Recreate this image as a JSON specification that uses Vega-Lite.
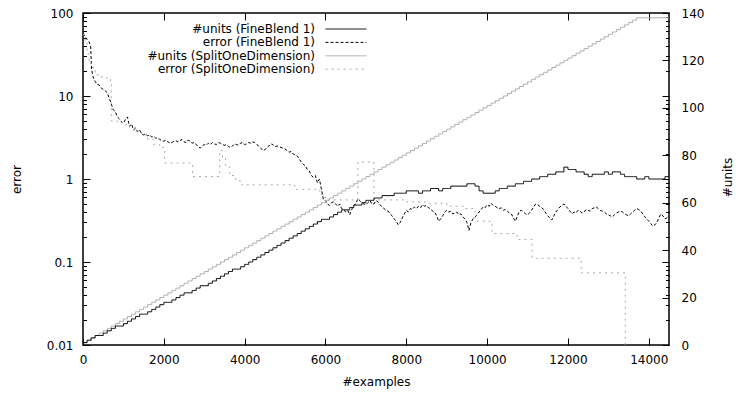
{
  "$schema": "https://vega.github.io/schema/vega-lite/v6.json",
  "width": 586,
  "height": 332,
  "autosize": {"type": "none"},
  "padding": {"left": 83, "top": 13, "right": 67, "bottom": 48},
  "datasets": {
    "units": [
      {"x":0,"fb":1,"sod":1},{"x":100,"fb":2,"sod":2},{"x":200,"fb":3,"sod":3},{"x":300,"fb":4,"sod":4},{"x":400,"fb":4,"sod":5},
      {"x":500,"fb":5,"sod":6},{"x":600,"fb":6,"sod":7},{"x":700,"fb":7,"sod":8},{"x":800,"fb":8,"sod":9},{"x":900,"fb":8,"sod":10},
      {"x":1000,"fb":9,"sod":11},{"x":1100,"fb":10,"sod":12},{"x":1200,"fb":11,"sod":13},{"x":1300,"fb":12,"sod":14},{"x":1400,"fb":13,"sod":15},
      {"x":1500,"fb":13,"sod":16},{"x":1600,"fb":14,"sod":17},{"x":1700,"fb":15,"sod":18},{"x":1800,"fb":16,"sod":19},{"x":1900,"fb":17,"sod":20},
      {"x":2000,"fb":18,"sod":21},{"x":2100,"fb":18,"sod":22},{"x":2200,"fb":19,"sod":23},{"x":2300,"fb":20,"sod":24},{"x":2400,"fb":21,"sod":25},
      {"x":2500,"fb":22,"sod":26},{"x":2600,"fb":22,"sod":27},{"x":2700,"fb":23,"sod":28},{"x":2800,"fb":24,"sod":29},{"x":2900,"fb":25,"sod":30},
      {"x":3000,"fb":25,"sod":31},{"x":3100,"fb":26,"sod":32},{"x":3200,"fb":27,"sod":33},{"x":3300,"fb":28,"sod":34},{"x":3400,"fb":29,"sod":35},
      {"x":3500,"fb":30,"sod":36},{"x":3600,"fb":31,"sod":37},{"x":3700,"fb":32,"sod":38},{"x":3800,"fb":32,"sod":39},{"x":3900,"fb":33,"sod":40},
      {"x":4000,"fb":34,"sod":41},{"x":4100,"fb":35,"sod":42},{"x":4200,"fb":36,"sod":43},{"x":4300,"fb":37,"sod":44},{"x":4400,"fb":38,"sod":45},
      {"x":4500,"fb":39,"sod":46},{"x":4600,"fb":40,"sod":47},{"x":4700,"fb":41,"sod":48},{"x":4800,"fb":42,"sod":49},{"x":4900,"fb":43,"sod":50},
      {"x":5000,"fb":44,"sod":51},{"x":5100,"fb":45,"sod":52},{"x":5200,"fb":46,"sod":53},{"x":5300,"fb":47,"sod":54},{"x":5400,"fb":48,"sod":55},
      {"x":5500,"fb":49,"sod":56},{"x":5600,"fb":50,"sod":57},{"x":5700,"fb":51,"sod":58},{"x":5800,"fb":52,"sod":59},{"x":5900,"fb":53,"sod":60},
      {"x":6000,"fb":53,"sod":61},{"x":6100,"fb":54,"sod":62},{"x":6200,"fb":55,"sod":63},{"x":6300,"fb":56,"sod":64},{"x":6400,"fb":57,"sod":65},
      {"x":6500,"fb":57,"sod":66},{"x":6600,"fb":58,"sod":67},{"x":6700,"fb":59,"sod":68},{"x":6800,"fb":59,"sod":69},{"x":6900,"fb":60,"sod":70},
      {"x":7000,"fb":61,"sod":71},{"x":7100,"fb":61,"sod":72},{"x":7200,"fb":62,"sod":73},{"x":7300,"fb":62,"sod":74},{"x":7400,"fb":63,"sod":75},
      {"x":7500,"fb":63,"sod":76},{"x":7600,"fb":63,"sod":77},{"x":7700,"fb":64,"sod":78},{"x":7800,"fb":64,"sod":79},{"x":7900,"fb":64,"sod":80},
      {"x":8000,"fb":65,"sod":81},{"x":8100,"fb":65,"sod":82},{"x":8200,"fb":65,"sod":83},{"x":8300,"fb":64,"sod":84},{"x":8400,"fb":65,"sod":85},
      {"x":8500,"fb":65,"sod":86},{"x":8600,"fb":66,"sod":87},{"x":8700,"fb":66,"sod":88},{"x":8800,"fb":65,"sod":89},{"x":8900,"fb":66,"sod":90},
      {"x":9000,"fb":66,"sod":91},{"x":9100,"fb":67,"sod":92},{"x":9200,"fb":67,"sod":93},{"x":9300,"fb":67,"sod":94},{"x":9400,"fb":67,"sod":95},
      {"x":9500,"fb":68,"sod":96},{"x":9600,"fb":68,"sod":97},{"x":9700,"fb":67,"sod":98},{"x":9800,"fb":65,"sod":99},{"x":9900,"fb":64,"sod":100},
      {"x":10000,"fb":64,"sod":101},{"x":10100,"fb":64,"sod":102},{"x":10200,"fb":65,"sod":103},{"x":10300,"fb":66,"sod":104},{"x":10400,"fb":66,"sod":105},
      {"x":10500,"fb":67,"sod":106},{"x":10600,"fb":67,"sod":107},{"x":10700,"fb":68,"sod":108},{"x":10800,"fb":68,"sod":109},{"x":10900,"fb":69,"sod":110},
      {"x":11000,"fb":69,"sod":111},{"x":11100,"fb":70,"sod":112},{"x":11200,"fb":70,"sod":113},{"x":11300,"fb":71,"sod":114},{"x":11400,"fb":71,"sod":115},
      {"x":11500,"fb":72,"sod":116},{"x":11600,"fb":72,"sod":117},{"x":11700,"fb":73,"sod":118},{"x":11800,"fb":73,"sod":119},{"x":11900,"fb":75,"sod":120},
      {"x":12000,"fb":74,"sod":121},{"x":12100,"fb":74,"sod":122},{"x":12200,"fb":73,"sod":123},{"x":12300,"fb":73,"sod":124},{"x":12400,"fb":72,"sod":125},
      {"x":12500,"fb":71,"sod":126},{"x":12600,"fb":72,"sod":127},{"x":12700,"fb":72,"sod":128},{"x":12800,"fb":72,"sod":129},{"x":12900,"fb":73,"sod":130},
      {"x":13000,"fb":72,"sod":131},{"x":13100,"fb":73,"sod":132},{"x":13200,"fb":73,"sod":133},{"x":13300,"fb":72,"sod":134},{"x":13400,"fb":71,"sod":135},
      {"x":13500,"fb":71,"sod":136},{"x":13600,"fb":71,"sod":137},{"x":13700,"fb":70,"sod":138},{"x":13800,"fb":70,"sod":138},{"x":13900,"fb":71,"sod":138},
      {"x":14000,"fb":70,"sod":138},{"x":14100,"fb":70,"sod":138},{"x":14200,"fb":70,"sod":138},{"x":14300,"fb":70,"sod":138},{"x":14400,"fb":71,"sod":138},
      {"x":14500,"fb":71,"sod":138}
    ],
    "errFB": [
      {"x":0,"e":57},{"x":50,"e":52},{"x":100,"e":48},{"x":150,"e":45},{"x":190,"e":40},{"x":210,"e":21},{"x":250,"e":17},{"x":300,"e":15},
      {"x":350,"e":13.8},{"x":400,"e":13.6},{"x":450,"e":12.5},{"x":500,"e":12},{"x":550,"e":11.5},{"x":600,"e":11},{"x":650,"e":9.4},
      {"x":700,"e":8},{"x":750,"e":6.8},{"x":800,"e":6.5},{"x":850,"e":5.6},{"x":900,"e":5.3},{"x":950,"e":4.9},{"x":1000,"e":4.7},
      {"x":1050,"e":5.2},{"x":1100,"e":5.6},{"x":1150,"e":4.3},{"x":1200,"e":4.6},{"x":1250,"e":3.9},{"x":1300,"e":4.1},{"x":1350,"e":3.7},
      {"x":1400,"e":3.9},{"x":1450,"e":3.5},{"x":1500,"e":3.4},{"x":1550,"e":3.5},{"x":1600,"e":3.3},{"x":1650,"e":3.4},{"x":1700,"e":3.2},{"x":1750,"e":3.25},{"x":1800,"e":3.1},
      {"x":1850,"e":3.15},{"x":1900,"e":3.0},{"x":1950,"e":2.9},{"x":2000,"e":2.85},{"x":2050,"e":2.95},{"x":2100,"e":2.8},{"x":2150,"e":2.7},{"x":2200,"e":2.75},{"x":2250,"e":2.85},{"x":2300,"e":2.9},{"x":2350,"e":2.8},{"x":2400,"e":2.9},{"x":2450,"e":3.0},{"x":2500,"e":2.8},
      {"x":2550,"e":2.75},{"x":2600,"e":2.95},{"x":2650,"e":2.85},{"x":2700,"e":2.7},{"x":2750,"e":2.75},{"x":2800,"e":2.6},{"x":2850,"e":2.5},{"x":2900,"e":2.35},{"x":2950,"e":2.5},{"x":3000,"e":2.6},{"x":3050,"e":2.55},{"x":3100,"e":2.7},{"x":3150,"e":2.6},{"x":3200,"e":2.75},
      {"x":3250,"e":2.65},{"x":3300,"e":2.6},{"x":3350,"e":2.75},{"x":3400,"e":2.7},{"x":3450,"e":2.6},{"x":3500,"e":2.55},{"x":3550,"e":2.6},{"x":3600,"e":2.45},{"x":3650,"e":2.4},{"x":3700,"e":2.5},{"x":3750,"e":2.65},{"x":3800,"e":2.6},{"x":3850,"e":2.55},{"x":3900,"e":2.7},
      {"x":3950,"e":2.75},{"x":4000,"e":2.6},{"x":4050,"e":2.65},{"x":4100,"e":2.75},{"x":4150,"e":2.7},{"x":4200,"e":2.8},{"x":4250,"e":2.75},{"x":4300,"e":2.6},{"x":4350,"e":2.5},{"x":4400,"e":2.35},{"x":4450,"e":2.2},{"x":4500,"e":2.25},{"x":4550,"e":2.4},{"x":4600,"e":2.5},
      {"x":4650,"e":2.65},{"x":4700,"e":2.6},{"x":4750,"e":2.45},{"x":4800,"e":2.5},{"x":4850,"e":2.45},{"x":4900,"e":2.4},{"x":4950,"e":2.35},{"x":5000,"e":2.3},{"x":5050,"e":2.2},{"x":5100,"e":2.1},{"x":5150,"e":2.15},{"x":5200,"e":2.0},{"x":5250,"e":1.95},{"x":5300,"e":1.9},
      {"x":5350,"e":1.75},{"x":5400,"e":1.6},{"x":5450,"e":1.5},{"x":5500,"e":1.45},{"x":5550,"e":1.3},{"x":5600,"e":1.25},{"x":5650,"e":1.1},{"x":5700,"e":1.05},{"x":5750,"e":1.1},{"x":5800,"e":0.9},{"x":5850,"e":1.0},
      {"x":5900,"e":0.75},{"x":5950,"e":0.56},{"x":6000,"e":0.55},{"x":6050,"e":0.5},{"x":6100,"e":0.48},{"x":6150,"e":0.52},{"x":6200,"e":0.53},{"x":6250,"e":0.5},{"x":6300,"e":0.47},{"x":6350,"e":0.5},{"x":6400,"e":0.44},
      {"x":6450,"e":0.43},{"x":6500,"e":0.4},{"x":6550,"e":0.42},{"x":6600,"e":0.37},{"x":6650,"e":0.43},{"x":6700,"e":0.48},{"x":6750,"e":0.5},{"x":6800,"e":0.58},{"x":6850,"e":0.55},{"x":6900,"e":0.52},{"x":6950,"e":0.5},{"x":7000,"e":0.49},{"x":7050,"e":0.52},{"x":7100,"e":0.55},
      {"x":7150,"e":0.5},{"x":7200,"e":0.5},{"x":7250,"e":0.55},{"x":7300,"e":0.53},{"x":7350,"e":0.49},{"x":7400,"e":0.46},{"x":7450,"e":0.44},{"x":7500,"e":0.42},{"x":7550,"e":0.41},{"x":7600,"e":0.38},{"x":7650,"e":0.36},{"x":7700,"e":0.33},{"x":7750,"e":0.31},{"x":7800,"e":0.28},
      {"x":7850,"e":0.3},{"x":7900,"e":0.34},{"x":7950,"e":0.38},{"x":8000,"e":0.42},{"x":8050,"e":0.4},{"x":8100,"e":0.44},{"x":8150,"e":0.43},{"x":8200,"e":0.46},{"x":8250,"e":0.44},{"x":8300,"e":0.47},{"x":8350,"e":0.45},{"x":8400,"e":0.49},{"x":8450,"e":0.47},{"x":8500,"e":0.48},
      {"x":8550,"e":0.45},{"x":8600,"e":0.44},{"x":8650,"e":0.41},{"x":8700,"e":0.4},{"x":8750,"e":0.36},{"x":8800,"e":0.31},{"x":8850,"e":0.33},{"x":8900,"e":0.36},{"x":8950,"e":0.4},{"x":9000,"e":0.42},{"x":9050,"e":0.4},{"x":9100,"e":0.41},{"x":9150,"e":0.38},{"x":9200,"e":0.39},
      {"x":9250,"e":0.4},{"x":9300,"e":0.37},{"x":9350,"e":0.38},{"x":9400,"e":0.35},{"x":9450,"e":0.33},{"x":9500,"e":0.3},{"x":9550,"e":0.24},{"x":9600,"e":0.3},{"x":9650,"e":0.33},{"x":9700,"e":0.35},{"x":9750,"e":0.37},{"x":9800,"e":0.4},
      {"x":9850,"e":0.43},{"x":9900,"e":0.46},{"x":9950,"e":0.45},{"x":10000,"e":0.49},{"x":10050,"e":0.47},{"x":10100,"e":0.51},{"x":10150,"e":0.48},{"x":10200,"e":0.47},{"x":10250,"e":0.45},{"x":10300,"e":0.44},{"x":10350,"e":0.45},{"x":10400,"e":0.42},{"x":10450,"e":0.43},{"x":10500,"e":0.41},
      {"x":10550,"e":0.39},{"x":10600,"e":0.38},{"x":10650,"e":0.34},{"x":10700,"e":0.31},{"x":10750,"e":0.36},{"x":10800,"e":0.41},{"x":10850,"e":0.42},{"x":10900,"e":0.4},{"x":10950,"e":0.38},{"x":11000,"e":0.37},{"x":11050,"e":0.39},{"x":11100,"e":0.42},{"x":11150,"e":0.46},{"x":11200,"e":0.5},
      {"x":11250,"e":0.49},{"x":11300,"e":0.47},{"x":11350,"e":0.45},{"x":11400,"e":0.43},{"x":11450,"e":0.39},{"x":11500,"e":0.36},{"x":11550,"e":0.34},{"x":11600,"e":0.32},{"x":11650,"e":0.36},{"x":11700,"e":0.4},{"x":11750,"e":0.43},{"x":11800,"e":0.46},{"x":11850,"e":0.48},{"x":11900,"e":0.5},
      {"x":11950,"e":0.47},{"x":12000,"e":0.44},{"x":12050,"e":0.41},{"x":12100,"e":0.38},{"x":12150,"e":0.4},{"x":12200,"e":0.39},{"x":12250,"e":0.42},{"x":12300,"e":0.41},{"x":12350,"e":0.39},{"x":12400,"e":0.4},{"x":12450,"e":0.43},{"x":12500,"e":0.42},{"x":12550,"e":0.41},{"x":12600,"e":0.44},
      {"x":12650,"e":0.45},{"x":12700,"e":0.46},{"x":12750,"e":0.44},{"x":12800,"e":0.42},{"x":12850,"e":0.41},{"x":12900,"e":0.4},{"x":12950,"e":0.38},{"x":13000,"e":0.37},{"x":13050,"e":0.36},{"x":13100,"e":0.35},{"x":13150,"e":0.37},{"x":13200,"e":0.39},{"x":13250,"e":0.4},{"x":13300,"e":0.41},
      {"x":13350,"e":0.4},{"x":13400,"e":0.38},{"x":13450,"e":0.37},{"x":13500,"e":0.36},{"x":13550,"e":0.38},{"x":13600,"e":0.4},{"x":13650,"e":0.42},{"x":13700,"e":0.44},{"x":13750,"e":0.43},{"x":13800,"e":0.41},{"x":13850,"e":0.38},{"x":13900,"e":0.35},{"x":13950,"e":0.33},{"x":14000,"e":0.31},
      {"x":14050,"e":0.29},{"x":14100,"e":0.27},{"x":14150,"e":0.28},{"x":14200,"e":0.3},{"x":14250,"e":0.34},{"x":14300,"e":0.38},{"x":14350,"e":0.36},{"x":14400,"e":0.33},{"x":14450,"e":0.34},{"x":14500,"e":0.36}
    ],
    "errSOD": [
      {"x":0,"e":55},{"x":50,"e":45},{"x":100,"e":32},{"x":150,"e":26},{"x":200,"e":22},{"x":300,"e":18},{"x":400,"e":17},{"x":500,"e":16.5},
      {"x":600,"e":16},{"x":680,"e":15},{"x":700,"e":5},{"x":850,"e":4.8},{"x":1000,"e":4.5},{"x":1150,"e":4.2},{"x":1300,"e":3.8},{"x":1450,"e":3.4},
      {"x":1600,"e":3.0},{"x":1750,"e":2.6},{"x":1900,"e":2.4},{"x":2020,"e":1.56},{"x":2713,"e":1.07},{"x":3383,"e":2.2},{"x":3450,"e":1.8},
      {"x":3530,"e":1.4},{"x":3630,"e":1.1},{"x":3780,"e":0.95},{"x":3928,"e":0.85},{"x":5241,"e":0.75},{"x":5861,"e":0.65},{"x":5950,"e":0.6},
      {"x":6034,"e":0.56},{"x":6802,"e":1.6},{"x":7199,"e":0.56},{"x":8000,"e":0.53},{"x":8537,"e":0.51},{"x":9000,"e":0.47},{"x":9400,"e":0.44},
      {"x":9701,"e":0.31},{"x":10122,"e":0.22},{"x":10742,"e":0.187},{"x":11114,"e":0.111},{"x":12328,"e":0.074},{"x":13418,"e":0.01}
    ]
  },
  "layer": [
    {
      "data": {"name": "errFB"},
      "mark": {"type": "line", "strokeWidth": 1, "clip": true},
      "encoding": {
        "x": {"field": "x", "type": "quantitative",
              "scale": {"domain": [0, 14500], "nice": false, "zero": false},
              "axis": {"orient": "bottom", "values": [0,2000,4000,6000,8000,10000,12000,14000], "format": "d", "title": "#examples",
                       "tickSize": -7, "labelPadding": 16, "labelFlush": false, "labelOverlap": false, "domain": false, "grid": false, "titleBaseline": "alphabetic", "titleY": 40}},
        "y": {"field": "e", "type": "quantitative",
              "scale": {"type": "log", "domain": [0.01, 100], "nice": false},
              "axis": {"orient": "left", "values": [0.01,0.1,1,10,100], "format": "~g", "title": "error",
                       "tickSize": -7, "labelPadding": 17, "labelFlush": false, "labelOverlap": false, "domain": false, "grid": false,
                       "titleBaseline": "alphabetic", "titleX": -63, "titleY": 166, "titleAngle": -90}},
        "color": {"datum": "error (FineBlend 1)", "type": "nominal",
                  "scale": {"domain": ["#units (FineBlend 1)", "error (FineBlend 1)", "#units (SplitOneDimension)", "error (SplitOneDimension)"],
                            "range": ["#000000", "#000000", "#aaaaaa", "#aaaaaa"]}},
        "strokeDash": {"datum": "error (FineBlend 1)", "type": "nominal",
                  "scale": {"domain": ["#units (FineBlend 1)", "error (FineBlend 1)", "#units (SplitOneDimension)", "error (SplitOneDimension)"],
                            "range": [[1,0], [3,2], [1,0], [2,4]]}}
      }
    },
    {
      "data": {"name": "errSOD"},
      "mark": {"type": "line", "strokeWidth": 1, "interpolate": "step-after", "clip": true},
      "encoding": {
        "x": {"field": "x", "type": "quantitative",
              "scale": {"domain": [0, 14500], "nice": false, "zero": false},
              "axis": {"orient": "top", "values": [0,2000,4000,6000,8000,10000,12000,14000], "title": null,
                       "labels": false, "tickSize": -7, "domain": false, "grid": false}},
        "y": {"field": "e", "type": "quantitative",
              "scale": {"type": "log", "domain": [0.01, 100], "nice": false},
              "axis": {"orient": "left", "values": [0.02,0.03,0.04,0.05,0.06,0.07,0.08,0.09,0.2,0.3,0.4,0.5,0.6,0.7,0.8,0.9,2,3,4,5,6,7,8,9,20,30,40,50,60,70,80,90],
                       "title": null, "labels": false, "tickSize": -3.5, "domain": false, "grid": false}},
        "color": {"datum": "error (SplitOneDimension)", "type": "nominal"},
        "strokeDash": {"datum": "error (SplitOneDimension)", "type": "nominal"}
      }
    },
    {
      "data": {"name": "units"},
      "mark": {"type": "line", "strokeWidth": 1, "interpolate": "step-after", "clip": true},
      "encoding": {
        "x": {"field": "x", "type": "quantitative",
              "scale": {"domain": [0, 14500], "nice": false, "zero": false}, "axis": null},
        "y": {"field": "sod", "type": "quantitative",
              "scale": {"domain": [0, 140], "nice": false},
              "axis": {"orient": "right", "values": [10.536,16.699,21.072,24.464,27.235,29.579,31.608,33.398,45.536,51.699,56.072,59.464,62.235,64.579,66.608,68.398,80.536,86.699,91.072,94.464,97.235,99.579,101.608,103.398,115.536,121.699,126.072,129.464,132.235,134.579,136.608,138.398],
                       "title": null, "labels": false, "tickSize": -3.5, "domain": false, "grid": false}},
        "color": {"datum": "#units (SplitOneDimension)", "type": "nominal"},
        "strokeDash": {"datum": "#units (SplitOneDimension)", "type": "nominal"}
      }
    },
    {
      "data": {"name": "units"},
      "mark": {"type": "line", "strokeWidth": 1, "interpolate": "step-after", "clip": true},
      "encoding": {
        "x": {"field": "x", "type": "quantitative",
              "scale": {"domain": [0, 14500], "nice": false, "zero": false}, "axis": null},
        "y": {"field": "fb", "type": "quantitative",
              "scale": {"domain": [0, 140], "nice": false},
              "axis": {"orient": "right", "values": [0,20,35,40,60,70,80,100,105,120,140],
                       "labelExpr": "(datum.value == 35 || datum.value == 70 || datum.value == 105) ? '' : datum.label",
                       "title": "#units", "tickSize": -7, "labelPadding": 19, "labelFlush": false, "labelOverlap": false, "domain": false, "grid": false,
                       "titleBaseline": "alphabetic", "titleX": 62, "titleY": 164, "titleAngle": -90}},
        "color": {"datum": "#units (FineBlend 1)", "type": "nominal"},
        "strokeDash": {"datum": "#units (FineBlend 1)", "type": "nominal"}
      }
    }
  ],
  "resolve": {"scale": {"x": "independent", "y": "independent"}},
  "config": {
    "font": "DejaVu Sans",
    "view": {"stroke": "#000000", "strokeWidth": 1.5},
    "axis": {"labelFontSize": 12, "titleFontSize": 12, "titleFontWeight": "normal", "labelColor": "#000000", "titleColor": "#000000",
             "tickColor": "#000000", "tickWidth": 1, "labelFont": "DejaVu Sans", "titleFont": "DejaVu Sans"},
    "legend": {"title": null, "orient": "none", "legendX": 257, "legendY": 10, "padding": 0,
               "symbolType": "M-20.5,0H20.5", "symbolSize": 4, "symbolStrokeWidth": 1, "symbolFillColor": "transparent",
               "labelAlign": "right", "labelOffset": -37, "labelFontSize": 12, "labelFont": "DejaVu Sans", "labelColor": "#000000",
               "rowPadding": 1.4, "labelLimit": 400}
  }
}
